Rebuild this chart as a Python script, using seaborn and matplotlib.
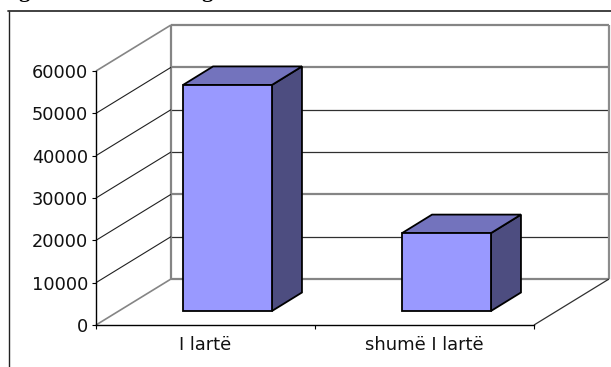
#!/usr/bin/env python
# coding=utf-8
import matplotlib
matplotlib.use("Agg")
import matplotlib.pyplot as plt
import pandas as pd
import seaborn as sns
from matplotlib.lines import Line2D

categories = ["I lartë", "shumë I lartë"]
values = [53400, 18400]
y_ticks = [0, 10000, 20000, 30000, 40000, 50000, 60000]

W, H = 611, 367
FRONT = "#9999FF"
TOP = "#7373BD"
SIDE = "#4D4D80"

sns.set_theme(style="white")
plt.rcParams["font.family"] = ["DejaVu Sans"]

fig = plt.figure(figsize=(W / 100, H / 100), dpi=100)
ax = fig.add_axes([96 / W, (H - 325) / H, 438 / W, 254 / H])

df = pd.DataFrame({"level": categories, "count": values})
sns.barplot(data=df, x="level", y="count", color=FRONT, saturation=1, width=0.406,
            edgecolor="black", linewidth=1.3, ax=ax, zorder=5)
ax.set_xlim(-0.5, 1.5)
ax.set_ylim(0, 60000)

# pixels -> data units, the fake 3d is all built from these
px_x = 2.0 / 438
px_y = 60000 / 254
wall_dx, wall_dy = 75 * px_x, 46 * px_y
base_dx, base_dy = 22 * px_x, 14 * px_y
bar_dx, bar_dy = 30 * px_x, 18.5 * px_y


def seg(xs, ys, color, lw, z=1):
    ax.plot(xs, ys, color=color, lw=lw, clip_on=False, zorder=z, solid_capstyle="butt")


# walls
x0, x1 = -0.5, 1.5
for t in y_ticks:
    edge = t in (0, 60000)
    color = "#858585" if edge or t in (20000, 50000) else "#303030"
    lw = 1.6 if edge or t in (20000, 50000) else 0.9
    seg([x0 + wall_dx, x1 + wall_dx], [t + wall_dy] * 2, color, lw)
    seg([x0, x0 + wall_dx], [t, t + wall_dy], "#858585" if edge else "#202020", 1.2 if edge else 0.8, 2)
seg([x0 + wall_dx] * 2, [wall_dy, 60000 + wall_dy], "#858585", 1.6)
seg([x1 + wall_dx] * 2, [wall_dy, 60000 + wall_dy], "#8C8C8C", 1.6)
seg([x1, x1 + wall_dx], [0, wall_dy], "#303030", 0.9)

# bars: move the front face back, then add side and top
for bar in ax.patches:
    bar.set_x(bar.get_x() + base_dx)
    bar.set_y(base_dy)
    bar.set_clip_on(False)
    l, r = bar.get_x(), bar.get_x() + bar.get_width()
    b, t = base_dy, base_dy + bar.get_height()
    ax.fill([r, r + bar_dx, r + bar_dx, r], [b, b + bar_dy, t + bar_dy, t],
            facecolor=SIDE, edgecolor="black", lw=1.3, clip_on=False, zorder=4)
    ax.fill([l, l + bar_dx, r + bar_dx, r], [t, t + bar_dy, t + bar_dy, t],
            facecolor=TOP, edgecolor="black", lw=1.3, clip_on=False, zorder=4)

sns.despine(ax=ax)
for s in ("left", "bottom"):
    ax.spines[s].set_color("black")
    ax.spines[s].set_linewidth(1.0)
    ax.spines[s].set_zorder(6)

ax.set_xlabel("")
ax.set_ylabel("")
ax.set_yticks(y_ticks)
ax.set_xticks([0, 1])
ax.set_xticklabels(categories)
ax.set_xticks([-0.5, 0.5, 1.5], minor=True)
ax.tick_params(axis="x", which="major", length=0, pad=8, labelsize=12.9, colors="#111111")
ax.tick_params(axis="x", which="minor", length=3, width=0.8, bottom=True, color="black")
ax.tick_params(axis="y", length=3, width=0.8, left=True, pad=2.5, labelsize=12.8, colors="#111111", color="black")

# frame of the page the chart was pasted on
fig.add_artist(Line2D([8.5 / W, 8.5 / W], [0, (H - 11) / H], color="#222222", lw=1.0))
fig.add_artist(Line2D([8 / W, 1], [(H - 11) / H] * 2, color="#333333", lw=1.3))

# caption above is cut off, only the descenders of the g's are left
for gx in (24, 207):
    fig.text(gx / W, (H + 3) / H, "g", family="Liberation Serif", weight="bold",
             fontsize=16, ha="center", va="baseline", color="black")

fig.savefig("out.png", dpi=100, facecolor="white")
